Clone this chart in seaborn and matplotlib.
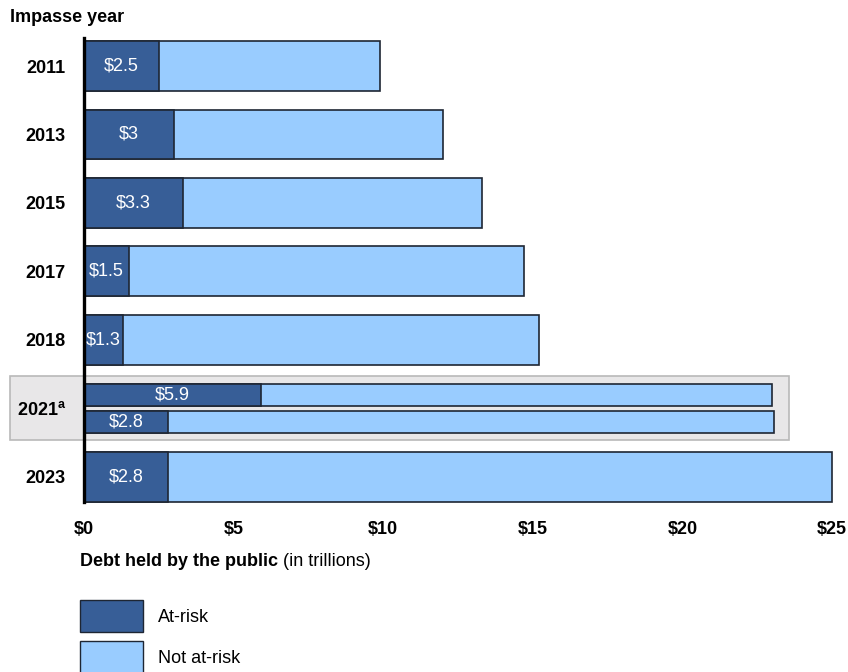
import matplotlib.pyplot as plt
import matplotlib.patches as mpatches
import numpy as np
import pandas as pd
import seaborn as sns

# 数据（单位：万亿美元）
years = ["2011", "2013", "2015", "2017", "2018", "2021", "2023"]
at_risk = [2.5, 3.0, 3.3, 1.5, 1.3, None, 2.8]
total = [9.9, 12.0, 13.3, 14.7, 15.2, None, 25.0]
# 2021 年有两个估计值
at_risk_2021 = [5.9, 2.8]
total_2021 = [23.0, 23.05]
x_ticks = [0, 5, 10, 15, 20, 25]

dark = "#375e97"
light = "#99ccff"
edge = "#1e2633"

sns.set_theme(style="white")
plt.rcParams["font.family"] = ["Liberation Sans", "DejaVu Sans"]
plt.rcParams["mathtext.fontset"] = "custom"
plt.rcParams["mathtext.rm"] = "Liberation Sans"
plt.rcParams["mathtext.bf"] = "Liberation Sans:bold"
for k in ["text.color", "xtick.color", "ytick.color", "axes.labelcolor"]:
    plt.rcParams[k] = "black"

fig = plt.figure(figsize=(8.48, 6.72), dpi=100)
ax = fig.add_axes([84 / 848, 1 - 502 / 672, 748 / 848, 464 / 672])

df = pd.DataFrame({"year": years, "at_risk": at_risk, "total": total})
df["pos"] = np.arange(len(df), dtype=float)
single = df.dropna()

i21 = years.index("2021")
df21 = pd.DataFrame({"at_risk": at_risk_2021, "total": total_2021,
                     "pos": [i21 - 0.2, i21 + 0.2]})

# 2021 的灰色背景框
ax.add_patch(mpatches.Rectangle((-2.47, i21 - 0.47), 26.03, 0.94,
                                facecolor="#e8e7e8", edgecolor="#b9b9b9",
                                linewidth=1.2, clip_on=False, zorder=0))

common = dict(orient="h", native_scale=True, errorbar=None, saturation=1,
              edgecolor=edge, linewidth=1.2, ax=ax)
sns.barplot(data=single, x="total", y="pos", color=light, width=0.73, **common)
sns.barplot(data=df21, x="total", y="pos", color=light, width=0.8, **common)
sns.barplot(data=single, x="at_risk", y="pos", color=dark, width=0.73, **common)
sns.barplot(data=df21, x="at_risk", y="pos", color=dark, width=0.8, **common)

for p in ax.patches[1:]:
    p.set_clip_on(False)
    p.set_zorder(2)

# 标注高风险数值
for cont, vals in [(ax.containers[2], single["at_risk"]), (ax.containers[3], df21["at_risk"])]:
    ax.bar_label(cont, labels=[f"${v:g}" for v in vals], label_type="center",
                 color="white", fontsize=13)

ax.set_xlim(0, 25)
ax.set_ylim(6.37, -0.41)
ax.set_xticks(x_ticks)
ax.set_xticklabels([f"${v}" for v in x_ticks], fontsize=13, fontweight="bold")
ax.set_yticks(range(len(years)))
ax.set_yticklabels([y if y != "2021" else r"$\mathbf{2021^{a}}$" for y in years],
                   fontsize=13, fontweight="bold")
ax.tick_params(axis="x", length=0, pad=14)
ax.tick_params(axis="y", length=0, pad=13)
ax.set_xlabel("")
ax.set_ylabel("")
ax.grid(False)
for s in ["top", "right", "bottom"]:
    ax.spines[s].set_visible(False)
ax.spines["left"].set_color("black")
ax.spines["left"].set_linewidth(2.4)
ax.spines["left"].set_zorder(5)
ax.patch.set_alpha(0)

fig.text(10 / 848, 1 - 17 / 672, "Impasse year", fontsize=13, fontweight="bold",
         va="center", ha="left")
t1 = fig.text(80 / 848, 1 - 561 / 672, "Debt held by the public", fontsize=13,
              fontweight="bold", va="center", ha="left")
ax.annotate(" (in trillions)", xy=(1, 0.5), xycoords=t1, va="center", ha="left",
            fontsize=13, annotation_clip=False)

handles = [mpatches.Patch(facecolor=dark, edgecolor=edge, linewidth=1.0, label="At-risk"),
           mpatches.Patch(facecolor=light, edgecolor=edge, linewidth=1.0, label="Not at-risk")]
fig.legend(handles=handles, loc="upper left", bbox_to_anchor=(80 / 848, 1 - 600 / 672),
           frameon=False, fontsize=13, handlelength=3.5, handleheight=2.36,
           handletextpad=0.8, labelspacing=0.5, borderpad=0, borderaxespad=0)

fig.savefig("out.png", dpi=100)
